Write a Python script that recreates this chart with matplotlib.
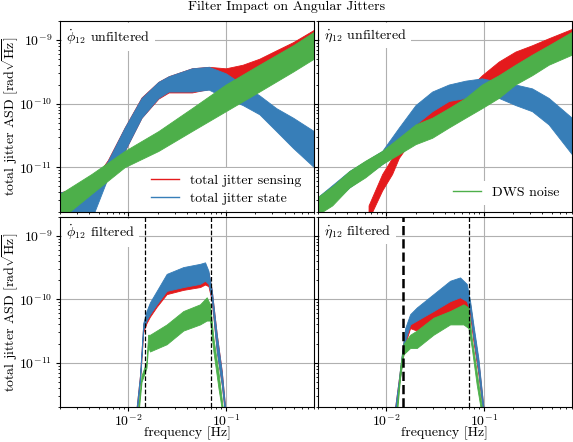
import matplotlib
matplotlib.use("Agg")
import matplotlib.pyplot as plt
from matplotlib.lines import Line2D

plt.rcParams['font.family'] = 'cmr10'
plt.rcParams['mathtext.fontset'] = 'cm'
plt.rcParams['axes.formatter.use_mathtext'] = True
plt.rcParams['axes.unicode_minus'] = False

RED = '#e41a1c'
BLUE = '#377eb8'
GREEN = '#4daf4a'

# --- phi_dot_12 unfiltered (top left): band edges ---
PHI_UNF_SENS_F = [0.002, 0.0042, 0.0062, 0.0092, 0.0137, 0.0204, 0.026, 0.045, 0.067, 0.1, 0.149, 0.221, 0.329, 0.49, 0.8]
PHI_UNF_SENS_LO = [1.5e-12, 2.2e-12, 6.9e-12, 1.8e-11, 6.0e-11, 1.2e-10, 1.5e-10, 1.5e-10, 1.7e-10, 2.0e-10, 2.2e-10, 2.8e-10, 3.6e-10, 4.6e-10, 6.6e-10]
PHI_UNF_SENS_HI = [4.0e-12, 5.5e-12, 1.3e-11, 4.2e-11, 1.25e-10, 2.2e-10, 2.7e-10, 3.6e-10, 3.8e-10, 3.6e-10, 4.1e-10, 5.1e-10, 6.9e-10, 9.3e-10, 1.45e-9]

PHI_UNF_STATE_F = [0.002, 0.0042, 0.0062, 0.0092, 0.0137, 0.0204, 0.026, 0.045, 0.067, 0.1, 0.149, 0.221, 0.329, 0.49, 0.8]
PHI_UNF_STATE_LO = [1.5e-12, 1.5e-12, 6.9e-12, 1.8e-11, 6.0e-11, 1.23e-10, 1.55e-10, 1.55e-10, 1.66e-10, 1.23e-10, 9.5e-11, 6.8e-11, 3.7e-11, 2.0e-11, 1.0e-11]
PHI_UNF_STATE_HI = [4.0e-12, 5.0e-12, 1.26e-11, 4.2e-11, 1.23e-10, 2.2e-10, 2.7e-10, 3.6e-10, 3.8e-10, 3.0e-10, 2.0e-10, 1.35e-10, 8.5e-11, 6.0e-11, 3.7e-11]

PHI_UNF_DWS_F = [0.002, 0.0042, 0.0092, 0.0204, 0.045, 0.1, 0.221, 0.49, 0.8]
PHI_UNF_DWS_LO = [1.5e-12, 3.8e-12, 1.0e-11, 1.8e-11, 3.7e-11, 7.6e-11, 1.55e-10, 3.2e-10, 5.1e-10]
PHI_UNF_DWS_HI = [3.8e-12, 7.8e-12, 1.8e-11, 3.7e-11, 8.5e-11, 2.0e-10, 4.1e-10, 8.3e-10, 1.35e-9]

# --- eta_dot_12 unfiltered (top right) ---
ETA_UNF_SENS_F = [0.0066, 0.0091, 0.0115, 0.0135, 0.020, 0.0296, 0.0438, 0.065, 0.096, 0.1425, 0.211, 0.3126, 0.463, 0.8]
ETA_UNF_SENS_LO = [1.5e-12, 4.3e-12, 7.8e-12, 1.4e-11, 3.3e-11, 4.7e-11, 6.8e-11, 8.5e-11, 1.38e-10, 2.0e-10, 3.2e-10, 4.6e-10, 5.9e-10, 8.3e-10]
ETA_UNF_SENS_HI = [2.5e-12, 7.8e-12, 1.4e-11, 2.6e-11, 6.0e-11, 8.5e-11, 1.23e-10, 1.55e-10, 2.8e-10, 4.6e-10, 6.6e-10, 8.3e-10, 1.07e-9, 1.5e-9]

ETA_UNF_STATE_F = [0.002, 0.0042, 0.0091, 0.0135, 0.020, 0.0296, 0.0438, 0.065, 0.096, 0.1425, 0.211, 0.3126, 0.463, 0.8]
ETA_UNF_STATE_LO = [1.8e-12, 4.8e-12, 1.12e-11, 1.8e-11, 4.7e-11, 7.6e-11, 1.1e-10, 1.23e-10, 1.23e-10, 1.23e-10, 9.5e-11, 7.6e-11, 4.7e-11, 1.6e-11]
ETA_UNF_STATE_HI = [3.4e-12, 8.7e-12, 1.8e-11, 4.2e-11, 9.5e-11, 1.55e-10, 2.0e-10, 2.3e-10, 2.5e-10, 2.2e-10, 2.0e-10, 1.74e-10, 1.23e-10, 6.0e-11]

ETA_UNF_DWS_F = [0.002, 0.0028, 0.0042, 0.0061, 0.0091, 0.0135, 0.020, 0.0296, 0.0438, 0.065, 0.096, 0.1425, 0.211, 0.3126, 0.463, 0.8]
ETA_UNF_DWS_LO = [1.8e-12, 2.5e-12, 4.8e-12, 6.9e-12, 1.12e-11, 1.6e-11, 2.3e-11, 2.9e-11, 4.2e-11, 6.0e-11, 8.5e-11, 1.23e-10, 2.0e-10, 2.8e-10, 4.1e-10, 5.9e-10]
ETA_UNF_DWS_HI = [3.4e-12, 5.0e-12, 8.7e-12, 1.26e-11, 1.8e-11, 2.9e-11, 4.7e-11, 6.0e-11, 8.5e-11, 1.23e-10, 2.0e-10, 2.8e-10, 4.1e-10, 5.9e-10, 8.3e-10, 1.35e-9]

# --- phi_dot_12 filtered (bottom left) ---
PHI_FIL_SENS_F = [0.0122, 0.0132, 0.01426, 0.0154, 0.0167, 0.0196, 0.0248, 0.0367, 0.0545, 0.0613, 0.0664, 0.0718, 0.0809, 0.091, 0.0985]
PHI_FIL_SENS_LO = [1.5e-12, 5.0e-12, 3.0e-11, 4.2e-11, 5.3e-11, 7.6e-11, 1.2e-10, 1.4e-10, 1.55e-10, 1.7e-10, 1.6e-10, 9.5e-11, 1.5e-11, 4.5e-12, 1.5e-12]
PHI_FIL_SENS_HI = [2.0e-12, 6.3e-12, 4.0e-11, 6.0e-11, 8.3e-11, 1.25e-10, 2.3e-10, 2.9e-10, 3.3e-10, 3.5e-10, 2.6e-10, 1.4e-10, 2.8e-11, 7.4e-12, 2.0e-12]

PHI_FIL_STATE_F = [0.0122, 0.0132, 0.01426, 0.0154, 0.0167, 0.0196, 0.0248, 0.0367, 0.0545, 0.0613, 0.0664, 0.0718, 0.0809, 0.091, 0.0985]
PHI_FIL_STATE_LO = [1.5e-12, 5.0e-12, 3.3e-11, 4.6e-11, 5.8e-11, 8.3e-11, 1.35e-10, 1.55e-10, 1.74e-10, 1.95e-10, 1.74e-10, 1.0e-10, 1.5e-11, 4.5e-12, 1.5e-12]
PHI_FIL_STATE_HI = [2.0e-12, 6.3e-12, 4.2e-11, 6.5e-11, 8.9e-11, 1.35e-10, 2.5e-10, 3.2e-10, 3.6e-10, 3.8e-10, 2.8e-10, 1.4e-10, 2.75e-11, 7.2e-12, 2.0e-12]

PHI_FIL_DWS_F = [0.0127, 0.0137, 0.0154, 0.016, 0.0167, 0.0248, 0.0367, 0.0545, 0.0638, 0.069, 0.0747, 0.0841, 0.093]
PHI_FIL_DWS_LO = [1.5e-12, 5.0e-12, 8.3e-12, 1.8e-11, 1.5e-11, 1.95e-11, 3.2e-11, 4.0e-11, 4.6e-11, 4.6e-11, 1.5e-11, 4.0e-12, 1.5e-12]
PHI_FIL_DWS_HI = [2.0e-12, 6.3e-12, 1.05e-11, 2.75e-11, 2.75e-11, 4.0e-11, 6.5e-11, 8.3e-11, 1.07e-10, 8.3e-11, 2.45e-11, 7.2e-12, 2.0e-12]

# --- eta_dot_12 filtered (bottom right) ---
ETA_FIL_SENS_F = [0.01236, 0.01337, 0.01445, 0.01566, 0.0176, 0.0206, 0.0305, 0.0452, 0.0572, 0.067, 0.0725, 0.0783, 0.0881, 0.0993]
ETA_FIL_SENS_LO = [1.5e-12, 4.0e-12, 9.3e-12, 2.0e-11, 3.5e-11, 3.2e-11, 4.6e-11, 6.5e-11, 7.4e-11, 6.5e-11, 5.6e-11, 2.2e-11, 6.6e-12, 1.5e-12]
ETA_FIL_SENS_HI = [2.0e-12, 5.0e-12, 1.26e-11, 3.2e-11, 5.0e-11, 5.1e-11, 7.4e-11, 1.07e-10, 1.12e-10, 1.07e-10, 8.3e-11, 3.5e-11, 1.07e-11, 2.0e-12]

ETA_FIL_STATE_F = [0.01236, 0.01337, 0.01445, 0.01566, 0.0176, 0.0206, 0.0305, 0.0452, 0.0572, 0.067, 0.0725, 0.0783, 0.0881, 0.0993]
ETA_FIL_STATE_LO = [1.5e-12, 4.0e-12, 9.3e-12, 2.2e-11, 4.0e-11, 4.6e-11, 6.5e-11, 9.3e-11, 1.07e-10, 9.3e-11, 6.5e-11, 2.5e-11, 7.2e-12, 1.5e-12]
ETA_FIL_STATE_HI = [2.0e-12, 5.0e-12, 1.35e-11, 3.5e-11, 5.8e-11, 7.4e-11, 1.2e-10, 1.95e-10, 2.2e-10, 1.74e-10, 9.3e-11, 4.0e-11, 1.18e-11, 2.0e-12]

ETA_FIL_DWS_F = [0.01285, 0.0139, 0.01503, 0.0176, 0.0206, 0.0305, 0.0452, 0.062, 0.0697, 0.0754, 0.0847, 0.0955]
ETA_FIL_DWS_LO = [1.5e-12, 5.8e-12, 1.35e-11, 1.7e-11, 1.7e-11, 2.75e-11, 4.0e-11, 4.0e-11, 3.5e-11, 1.7e-11, 4.5e-12, 1.5e-12]
ETA_FIL_DWS_HI = [2.0e-12, 8.3e-12, 1.95e-11, 2.75e-11, 3.2e-11, 5.1e-11, 6.5e-11, 8.3e-11, 7.4e-11, 2.45e-11, 7.2e-12, 2.0e-12]

# band-pass filter edges [Hz]
PHI_FILTER_EDGES = [0.015, 0.07]
ETA_FILTER_EDGES = [0.015, 0.07]

PANEL_LABELS = [r'$\dot{\phi}_{12}$ unfiltered', r'$\dot{\eta}_{12}$ unfiltered',
                r'$\dot{\phi}_{12}$ filtered', r'$\dot{\eta}_{12}$ filtered']


def band(ax, f, lo, hi, color):
    ax.fill_between(f, lo, hi, facecolor=color, edgecolor=color, linewidth=0.6)


fig, axes = plt.subplots(2, 2, figsize=(5.73, 4.42), dpi=100, sharex=True, sharey=True)
fig.subplots_adjust(left=0.1047, right=0.998, bottom=0.079, top=0.9525, wspace=0.016, hspace=0.026)
(ax1, ax2), (ax3, ax4) = axes

band(ax1, PHI_UNF_SENS_F, PHI_UNF_SENS_LO, PHI_UNF_SENS_HI, RED)
band(ax1, PHI_UNF_STATE_F, PHI_UNF_STATE_LO, PHI_UNF_STATE_HI, BLUE)
band(ax1, PHI_UNF_DWS_F, PHI_UNF_DWS_LO, PHI_UNF_DWS_HI, GREEN)

band(ax2, ETA_UNF_SENS_F, ETA_UNF_SENS_LO, ETA_UNF_SENS_HI, RED)
band(ax2, ETA_UNF_STATE_F, ETA_UNF_STATE_LO, ETA_UNF_STATE_HI, BLUE)
band(ax2, ETA_UNF_DWS_F, ETA_UNF_DWS_LO, ETA_UNF_DWS_HI, GREEN)

band(ax3, PHI_FIL_SENS_F, PHI_FIL_SENS_LO, PHI_FIL_SENS_HI, RED)
band(ax3, PHI_FIL_STATE_F, PHI_FIL_STATE_LO, PHI_FIL_STATE_HI, BLUE)
band(ax3, PHI_FIL_DWS_F, PHI_FIL_DWS_LO, PHI_FIL_DWS_HI, GREEN)

band(ax4, ETA_FIL_SENS_F, ETA_FIL_SENS_LO, ETA_FIL_SENS_HI, RED)
band(ax4, ETA_FIL_STATE_F, ETA_FIL_STATE_LO, ETA_FIL_STATE_HI, BLUE)
band(ax4, ETA_FIL_DWS_F, ETA_FIL_DWS_LO, ETA_FIL_DWS_HI, GREEN)

for fc in PHI_FILTER_EDGES:
    ax3.axvline(fc, color='k', ls='--', lw=0.9)
for i, fc in enumerate(ETA_FILTER_EDGES):
    ax4.axvline(fc, color='k', ls='--', lw=1.8 if i == 0 else 0.9)

for ax, label in zip(axes.flat, PANEL_LABELS):
    ax.set_xscale('log')
    ax.set_yscale('log')
    ax.set_xlim(0.002, 0.8)
    ax.set_ylim(2e-12, 2e-9)
    ax.set_axisbelow(True)
    ax.grid(True, which='major', color='#b0b0b0', lw=0.8)
    ax.tick_params(which='major', length=3, labelsize=10)
    ax.tick_params(which='minor', length=1.5)
    ax.tick_params(axis='x', which='major', pad=1.5)
    ax.tick_params(axis='y', which='major', pad=2.5)
    ax.text(0.025, 0.965, label, transform=ax.transAxes, ha='left', va='top', fontsize=10,
            bbox=dict(facecolor='white', edgecolor='none', pad=3))

for ax in (ax1, ax3):
    ax.set_ylabel(r'total jitter ASD [rad$\sqrt{\mathrm{Hz}}$]', fontsize=10, va='center')
    ax.yaxis.set_label_coords(-0.192, 0.5)
for ax in (ax3, ax4):
    ax.set_xlabel('frequency [Hz]', fontsize=10)
    ax.xaxis.set_label_coords(0.5, -0.1)

h1 = [Line2D([], [], color=RED, lw=1), Line2D([], [], color=BLUE, lw=1)]
ax1.legend(h1, ['total jitter sensing', 'total jitter state'], loc='lower right', fontsize=10,
           bbox_to_anchor=(1.0, -0.03), labelspacing=0.4,
           frameon=True, framealpha=1, edgecolor='none', fancybox=False)
h2 = [Line2D([], [], color=GREEN, lw=1)]
ax2.legend(h2, ['DWS noise'], loc='lower right', fontsize=10, bbox_to_anchor=(1.0, 0.0),
           frameon=True, framealpha=1, edgecolor='none', fancybox=False)

fig.suptitle('Filter Impact on Angular Jitters', fontsize=10, y=0.998, va='top')

fig.savefig('out.png', dpi=100)
